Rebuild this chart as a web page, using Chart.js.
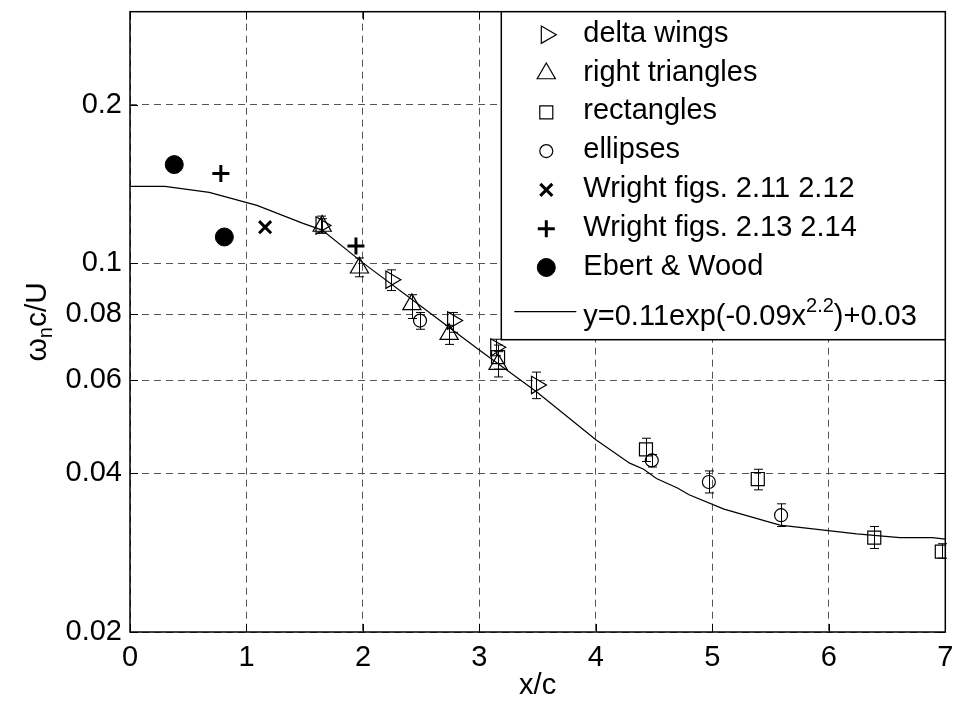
<!DOCTYPE html>
<html>
<head>
<meta charset="utf-8">
<script src="https://cdn.jsdelivr.net/npm/chart.js@4.4.0/dist/chart.umd.min.js"></script>
<style>
  html, body { margin: 0; padding: 0; background: #fff; }
</style>
</head>
<body>
<canvas id="chart" width="957" height="708"></canvas>
<script>
// values (x/c, omega_n c/U), error bars as low/high
const deltaX = [1.64, 2.24, 2.77, 3.14, 3.49];
const deltaY = [0.118, 0.0931, 0.0779, 0.0693, 0.0588];
const deltaLo = [0.1141, 0.0888, 0.0740, 0.0668, 0.0554];
const deltaHi = [0.1229, 0.0972, 0.0807, 0.0718, 0.0622];

const triX = [1.65, 1.97, 2.42, 2.74, 3.16];
const triY = [0.1177, 0.0981, 0.0836, 0.0734, 0.0644];
const triLo = [0.1141, 0.0943, 0.0786, 0.0702, 0.0609];
const triHi = [0.1215, 0.1024, 0.0872, 0.0763, 0.0680];

const rectX = [3.16, 4.43, 5.39, 6.39, 6.97];
const rectY = [0.0664, 0.0444, 0.0390, 0.0302, 0.0284];
const rectLo = [0.0630, 0.0421, 0.0372, 0.0288, 0.0276];
const rectHi = [0.0700, 0.0466, 0.0407, 0.0317, 0.0294];

const ellX = [2.49, 4.48, 4.97, 5.59];
const ellY = [0.0779, 0.0423, 0.0385, 0.0333];
const ellLo = [0.0750, 0.0411, 0.0367, 0.0317];
const ellHi = [0.0807, 0.0434, 0.0404, 0.0350];

const wrightAX = [1.16];
const wrightAY = [0.1171];
const wrightBX = [0.78, 1.94];
const wrightBY = [0.148, 0.1079];
const ebertX = [0.38, 0.81];
const ebertY = [0.1539, 0.1122];

// fitted curve, points
const fitX = [0, 0.30, 0.68, 1.09, 1.48, 1.65, 2.0, 2.49, 2.99, 3.49, 4.0, 4.29, 4.41, 4.52, 4.70, 4.80, 5.10, 5.58, 6.24, 6.61, 6.89, 7.0];
const fitY = [0.1399, 0.1399, 0.1363, 0.1288, 0.1192, 0.1156, 0.1002, 0.0832, 0.0687, 0.0571, 0.0463, 0.0418, 0.0407, 0.0391, 0.0375, 0.0364, 0.0342, 0.0319, 0.0307, 0.0302, 0.0302, 0.0300];

const xTicks = [0, 1, 2, 3, 4, 5, 6, 7];
const yTicks = [0.02, 0.04, 0.06, 0.08, 0.1, 0.2];

const FONT = '"Liberation Sans", Arial, Helvetica, sans-serif';
Chart.defaults.font.family = FONT;
Chart.defaults.color = '#000';

function pts(xs, ys) {
    return xs.map((x, i) => ({ x: x, y: ys[i] }));
}

function marker(label, xs, ys, style, radius, extra) {
    return Object.assign({
        label: label,
        data: pts(xs, ys),
        showLine: false,
        pointStyle: style,
        pointRadius: radius,
        pointHoverRadius: radius,
        pointBorderColor: '#000',
        pointBackgroundColor: 'rgba(0,0,0,0)',
        pointBorderWidth: 1.2,
        pointRotation: 0
    }, extra || {});
}

const datasets = [
    {
        label: 'fit',
        data: pts(fitX, fitY),
        showLine: true,
        borderColor: '#000',
        borderWidth: 1.2,
        pointRadius: 0,
        tension: 0,
        fill: false
    },
    marker('delta wings', deltaX, deltaY, 'triangle', 10, { pointRotation: 90, errLow: deltaLo, errHigh: deltaHi }),
    marker('right triangles', triX, triY, 'triangle', 10.5, { errLow: triLo, errHigh: triHi }),
    marker('rectangles', rectX, rectY, 'rect', 9.2, { errLow: rectLo, errHigh: rectHi }),
    marker('ellipses', ellX, ellY, 'circle', 6.5, { errLow: ellLo, errHigh: ellHi }),
    marker('Wright figs. 2.11 2.12', wrightAX, wrightAY, 'crossRot', 8.5, { pointBorderWidth: 3 }),
    marker('Wright figs. 2.13 2.14', wrightBX, wrightBY, 'cross', 8.5, { pointBorderWidth: 3 }),
    marker('Ebert & Wood', ebertX, ebertY, 'circle', 9, { pointBackgroundColor: '#000', pointBorderWidth: 1 })
];

function drawMarker(ctx, ds, x, y) {
    ctx.save();
    ctx.strokeStyle = '#000';
    ctx.fillStyle = ds.pointBackgroundColor;
    ctx.lineWidth = ds.pointBorderWidth;
    Chart.helpers.drawPoint(ctx, {
        pointStyle: ds.pointStyle,
        radius: ds.pointRadius,
        rotation: ds.pointRotation,
        borderWidth: ds.pointBorderWidth
    }, x, y);
    ctx.restore();
}

const extras = {
    id: 'extras',
    afterDatasetsDraw(chart) {
        const ctx = chart.ctx;
        const xs = chart.scales.x, ys = chart.scales.y;
        ctx.save();
        ctx.strokeStyle = '#000';
        ctx.lineWidth = 1;
        chart.data.datasets.forEach(ds => {
            if (!ds.errLow) return;
            ds.data.forEach((p, i) => {
                const px = Math.round(xs.getPixelForValue(p.x)) + 0.5;
                const top = ys.getPixelForValue(ds.errHigh[i]);
                const bot = ys.getPixelForValue(ds.errLow[i]);
                ctx.beginPath();
                ctx.moveTo(px, top); ctx.lineTo(px, bot);
                ctx.moveTo(px - 4.5, top); ctx.lineTo(px + 4.5, top);
                ctx.moveTo(px - 4.5, bot); ctx.lineTo(px + 4.5, bot);
                ctx.stroke();
            });
        });
        ctx.restore();
    },
    afterDraw(chart) {
        const ctx = chart.ctx;
        const a = chart.chartArea;
        const xs = chart.scales.x, ys = chart.scales.y;
        ctx.save();

        // inward ticks
        ctx.strokeStyle = '#000';
        ctx.lineWidth = 1;
        ctx.beginPath();
        xTicks.forEach(v => {
            const px = Math.round(xs.getPixelForValue(v)) + 0.5;
            ctx.moveTo(px, a.bottom); ctx.lineTo(px, a.bottom - 8);
            ctx.moveTo(px, a.top); ctx.lineTo(px, a.top + 8);
        });
        yTicks.forEach(v => {
            const py = Math.round(ys.getPixelForValue(v)) + 0.5;
            ctx.moveTo(a.left, py); ctx.lineTo(a.left + 8, py);
            ctx.moveTo(a.right, py); ctx.lineTo(a.right - 8, py);
        });
        ctx.stroke();

        // frame
        ctx.lineWidth = 1.5;
        ctx.strokeRect(a.left, a.top, a.right - a.left, a.bottom - a.top);

        // legend box
        const lx = a.right - 444, ly = a.top, lw = 444, lh = 328;
        ctx.fillStyle = '#fff';
        ctx.fillRect(lx, ly, lw, lh);
        ctx.strokeRect(lx, ly, lw, lh);

        const markers = chart.data.datasets.slice(1);
        ctx.font = '29px ' + FONT;
        ctx.textBaseline = 'alphabetic';
        ctx.textAlign = 'left';
        markers.forEach((ds, i) => {
            const base = ly + 30 + i * 38.8;
            drawMarker(ctx, ds, lx + 45, base - 7);
            ctx.fillStyle = '#000';
            ctx.fillText(ds.label, lx + 82, base);
        });

        // fit line entry with superscript
        const fb = ly + 313;
        ctx.strokeStyle = '#000';
        ctx.lineWidth = 1.2;
        ctx.beginPath();
        ctx.moveTo(lx + 13, fb - 13);
        ctx.lineTo(lx + 75, fb - 13);
        ctx.stroke();
        ctx.fillStyle = '#000';
        let tx = lx + 82;
        const p1 = 'y=0.11exp(-0.09x', p2 = '2.2', p3 = ')+0.03';
        ctx.font = '29px ' + FONT;
        ctx.fillText(p1, tx, fb);
        tx += ctx.measureText(p1).width;
        ctx.font = '20px ' + FONT;
        ctx.fillText(p2, tx, fb - 13);
        tx += ctx.measureText(p2).width;
        ctx.font = '29px ' + FONT;
        ctx.fillText(p3, tx, fb);

        // axis titles
        ctx.textAlign = 'center';
        ctx.fillText('x/c', (a.left + a.right) / 2, 694);

        ctx.translate(46, (a.top + a.bottom) / 2);
        ctx.rotate(-Math.PI / 2);
        ctx.textAlign = 'left';
        const t1 = '\u03c9', t2 = 'n', t3 = 'c/U';
        ctx.font = '30px ' + FONT;
        const w1 = ctx.measureText(t1).width, w3 = ctx.measureText(t3).width;
        ctx.font = '20px ' + FONT;
        const w2 = ctx.measureText(t2).width;
        let sx = -(w1 + w2 + w3) / 2;
        ctx.font = '30px ' + FONT;
        ctx.fillText(t1, sx, 0);
        sx += w1;
        ctx.font = '20px ' + FONT;
        ctx.fillText(t2, sx, 6);
        sx += w2;
        ctx.font = '30px ' + FONT;
        ctx.fillText(t3, sx, 0);

        ctx.restore();
    }
};

new Chart(document.getElementById('chart'), {
    type: 'scatter',
    data: { datasets: datasets },
    options: {
        responsive: false,
        animation: false,
        events: [],
        layout: { padding: { left: 0, right: 11, top: 7, bottom: 0 } },
        plugins: {
            legend: { display: false },
            tooltip: { enabled: false }
        },
        scales: {
            x: {
                type: 'linear',
                min: 0,
                max: 7,
                afterBuildTicks: scale => { scale.ticks = xTicks.map(v => ({ value: v })); },
                afterFit: scale => {
                    scale.height = 76;
                    scale.paddingLeft = 0;
                    scale.paddingRight = 0;
                },
                ticks: {
                    font: { size: 29 },
                    color: '#000',
                    padding: 9,
                    maxRotation: 0
                },
                grid: { color: '#555', lineWidth: 1, drawTicks: false },
                border: { display: false, dash: [7, 5] }
            },
            y: {
                type: 'logarithmic',
                min: 0.02,
                max: 0.3,
                afterBuildTicks: scale => { scale.ticks = yTicks.map(v => ({ value: v })); },
                afterFit: scale => {
                    scale.width = 130;
                    scale.paddingTop = 0;
                    scale.paddingBottom = 0;
                },
                ticks: {
                    font: { size: 29 },
                    color: '#000',
                    padding: 8,
                    callback: v => String(v)
                },
                grid: { color: '#555', lineWidth: 1, drawTicks: false },
                border: { display: false, dash: [7, 5] }
            }
        }
    },
    plugins: [extras]
});
</script>
</body>
</html>
